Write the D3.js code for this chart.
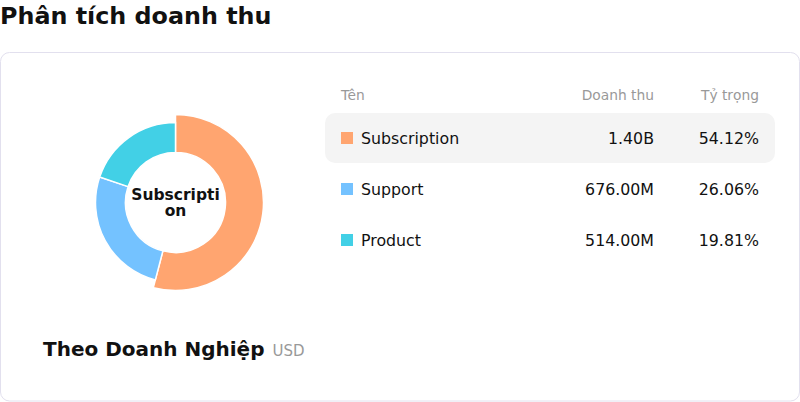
<!DOCTYPE html>
<html>
<head>
<meta charset="utf-8">
<script src="https://cdn.jsdelivr.net/npm/d3@7"></script>
<style>
  body { margin: 0; background: #fff; font-family: "DejaVu Sans", sans-serif; }
</style>
</head>
<body>
<div id="chart"></div>
<script>
// data
var categories = ["Subscription", "Support", "Product"];
var revenue = [1.40e9, 676e6, 514e6];
var revenueLabels = ["1.40B", "676.00M", "514.00M"];
var shareLabels = ["54.12%", "26.06%", "19.81%"];
var colors = ["#ffa570", "#74c2ff", "#42d0e6"];
var headers = ["Tên", "Doanh thu", "Tỷ trọng"];
var selected = 0;

var width = 800, height = 402;

var svg = d3.select("#chart").append("svg")
    .attr("width", width)
    .attr("height", height);

svg.append("text")
    .attr("x", 0)
    .attr("y", 24)
    .attr("font-size", 23.8)
    .attr("font-weight", "bold")
    .attr("fill", "#111")
    .text("Phân tích doanh thu");

// card
svg.append("rect")
    .attr("x", 0.5).attr("y", 52.5)
    .attr("width", 799).attr("height", 348.5)
    .attr("rx", 9)
    .attr("fill", "#fff")
    .attr("stroke", "#e2e0ee");

// donut
var pie = d3.pie().sort(null).value(function (d) { return d; });
var arcs = pie(revenue);
var arc = d3.arc().innerRadius(50).outerRadius(80);
var arcSel = d3.arc().innerRadius(50).outerRadius(88);

var g = svg.append("g").attr("transform", "translate(175.5,202.5)");
g.selectAll("path")
    .data(arcs)
    .enter().append("path")
    .attr("d", function (d, i) { return i == selected ? arcSel(d) : arc(d); })
    .attr("fill", function (d, i) { return colors[i]; })
    .attr("stroke", "#fff")
    .attr("stroke-width", 1.5);

// center label, wrapped like the original
var label = categories[selected];
var lines = [label.slice(0, 10), label.slice(10)];
g.append("text")
    .attr("text-anchor", "middle")
    .attr("font-size", 15.5)
    .attr("font-weight", "bold")
    .attr("fill", "#111")
    .selectAll("tspan")
    .data(lines)
    .enter().append("tspan")
    .attr("x", 0)
    .attr("y", function (d, i) { return -3 + i * 16; })
    .text(function (d) { return d; });

// subtitle
var sub = svg.append("text")
    .attr("x", 43)
    .attr("y", 356)
    .attr("font-size", 20)
    .attr("font-weight", "bold")
    .attr("fill", "#111");
sub.append("tspan").text("Theo Doanh Nghiệp");
sub.append("tspan")
    .attr("dx", 8)
    .attr("font-size", 15)
    .attr("font-weight", "normal")
    .attr("fill", "#999")
    .text("USD");

// table
var y = d3.scaleBand()
    .domain(categories)
    .range([113, 266])
    .paddingInner(0);

var tbl = svg.append("g");
tbl.append("text").attr("x", 341).attr("y", 100).attr("font-size", 13.8).attr("fill", "#999").text(headers[0]);
tbl.append("text").attr("x", 654).attr("y", 100).attr("font-size", 13.8).attr("fill", "#999").attr("text-anchor", "end").text(headers[1]);
tbl.append("text").attr("x", 759).attr("y", 100).attr("font-size", 13.8).attr("fill", "#999").attr("text-anchor", "end").text(headers[2]);

var rows = tbl.selectAll(".row")
    .data(categories)
    .enter().append("g")
    .attr("class", "row")
    .attr("transform", function (d) { return "translate(0," + y(d) + ")"; });

rows.filter(function (d, i) { return i == selected; })
    .append("rect")
    .attr("x", 325).attr("y", 0)
    .attr("width", 450).attr("height", 50)
    .attr("rx", 10)
    .attr("fill", "#f4f4f4");

rows.append("rect")
    .attr("x", 341).attr("y", 19)
    .attr("width", 12).attr("height", 12)
    .attr("fill", function (d, i) { return colors[i]; });

rows.append("text")
    .attr("x", 361).attr("y", 31)
    .attr("font-size", 15.8)
    .attr("fill", "#111")
    .text(function (d) { return d; });

rows.append("text")
    .attr("x", 654).attr("y", 31)
    .attr("font-size", 15.8)
    .attr("fill", "#111")
    .attr("text-anchor", "end")
    .text(function (d, i) { return revenueLabels[i]; });

rows.append("text")
    .attr("x", 759).attr("y", 31)
    .attr("font-size", 15.8)
    .attr("fill", "#111")
    .attr("text-anchor", "end")
    .text(function (d, i) { return shareLabels[i]; });
</script>
</body>
</html>
